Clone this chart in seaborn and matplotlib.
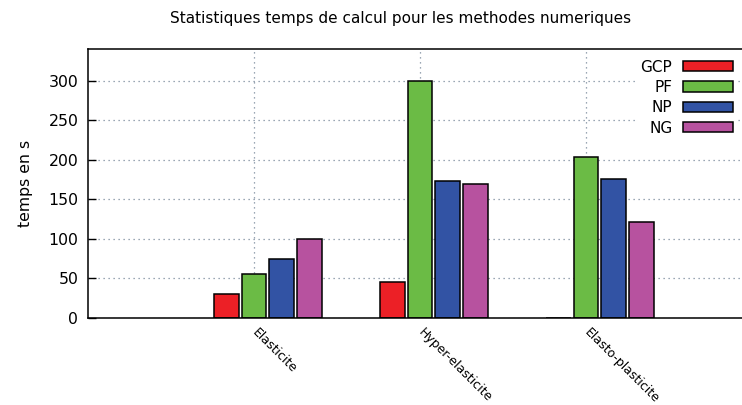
import matplotlib
matplotlib.use("Agg")
import matplotlib.pyplot as plt
from matplotlib.patches import Patch
import seaborn as sns
import pandas as pd
import numpy as np

# Data
categories = ["Elasticite", "Hyper-elasticite", "Elasto-plasticite"]
methods = ["GCP", "PF", "NP", "NG"]
gcp = [30, 45, 0]
pf = [55, 299, 203]
np_ = [75, 173, 176]
ng = [100, 170, 121]
colors = ["#ec2026", "#6bbb45", "#3253a4", "#b7529f"]

rows = []
for m, vals in zip(methods, [gcp, pf, np_, ng]):
    for c, v in zip(categories, vals):
        rows.append({"cat": c, "method": m, "t": v})
df = pd.DataFrame(rows)

sns.set_theme(style="white")
plt.rcParams["font.family"] = ["DejaVu Sans"]
plt.rcParams["text.color"] = "black"
plt.rcParams["axes.labelcolor"] = "black"
plt.rcParams["xtick.color"] = "black"
plt.rcParams["ytick.color"] = "black"

fig = plt.figure(figsize=(7.42, 4.05), dpi=100)
ax = fig.add_axes([88 / 742, 87 / 405, 664 / 742, 269 / 405])

sns.barplot(data=df, x="cat", y="t", hue="method", order=categories,
            hue_order=methods, palette=colors, width=4 / 6, gap=0.1,
            edgecolor="black", linewidth=1.1, saturation=1, ax=ax,
            legend=False, errorbar=None)

# ticks sit on the second bar of each cluster
tick_pos = np.arange(len(categories)) - 1 / 12
ax.set_xticks(tick_pos)
ax.set_xticklabels(categories, rotation=-45, ha="left", va="center",
                   rotation_mode="anchor", fontsize=9, color="black")
ax.set_xlim(-1 - 1 / 12, 3 - 1 / 12)
ax.set_ylim(0, 340)
ax.set_yticks(range(0, 301, 50))
ax.tick_params(axis="y", direction="in", length=6, width=1, pad=7,
               labelsize=11.3, colors="black", left=True)
ax.tick_params(axis="x", length=0, pad=9)
ax.set_xlabel("")
ax.set_ylabel("temps en s", fontsize=11.3, labelpad=11, color="black")

ax.grid(True, color="#7a8a9c", linestyle=(0, (1, 3)), linewidth=0.9)
ax.set_axisbelow(True)
for s in ["left", "bottom", "top"]:
    ax.spines[s].set_visible(True)
    ax.spines[s].set_color("black")
    ax.spines[s].set_linewidth(1.1)
ax.spines["right"].set_visible(False)

handles = [Patch(facecolor=c, edgecolor="black", linewidth=1.1) for c in colors]
leg = ax.legend(handles, methods, loc="upper right",
                bbox_to_anchor=(738 / 742, 1 - 55 / 405),
                bbox_transform=fig.transFigure, markerfirst=False,
                handlelength=3.3, handleheight=0.65, labelspacing=0.35,
                handletextpad=0.7, fontsize=11, frameon=True,
                borderpad=0.3, borderaxespad=0)
leg.get_frame().set_facecolor("white")
leg.get_frame().set_edgecolor("none")
leg.get_frame().set_alpha(1)
for t in leg.get_texts():
    t.set_color("black")

fig.text(401 / 742, 1 - 18 / 405,
         "Statistiques temps de calcul pour les methodes numeriques",
         ha="center", va="center", fontsize=11, color="black")

fig.savefig("out.png", dpi=100)
